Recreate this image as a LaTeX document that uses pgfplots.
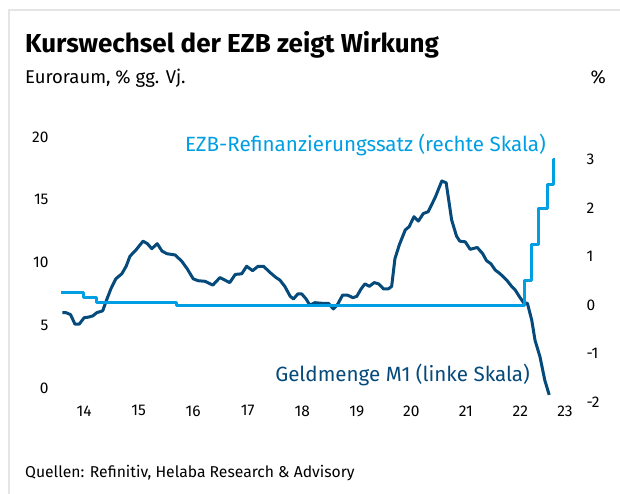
\documentclass[border=0pt]{standalone}
\usepackage{pgfplots}
\pgfplotsset{compat=1.18}
\usepackage{fontspec}
\setmainfont{Fira Sans}
\definecolor{dkblue}{HTML}{054A7A}
\definecolor{ltblue}{HTML}{009FE3}
\pgfplotstableread{
x y
2014.10 6.0
2014.17 6.0
2014.25 5.85
2014.33 5.1
2014.41 5.1
2014.50 5.6
2014.58 5.65
2014.66 5.75
2014.73 6.0
2014.84 6.15
2014.91 7.0
2014.99 7.9
2015.08 8.7
2015.19 9.1
2015.27 9.7
2015.34 10.5
2015.45 11.0
2015.58 11.7
2015.66 11.5
2015.74 11.1
2015.84 11.5
2015.93 10.9
2016.02 10.7
2016.17 10.6
2016.29 10.1
2016.39 9.5
2016.50 8.7
2016.59 8.55
2016.72 8.5
2016.86 8.2
2016.99 8.8
2017.17 8.4
2017.27 9.05
2017.39 9.1
2017.48 9.7
2017.59 9.35
2017.69 9.7
2017.79 9.7
2017.91 9.2
2018.02 8.8
2018.09 8.6
2018.18 8.1
2018.28 7.3
2018.34 7.1
2018.42 7.5
2018.49 7.5
2018.57 7.1
2018.64 6.6
2018.73 6.8
2018.86 6.75
2018.98 6.75
2019.07 6.3
2019.14 6.6
2019.24 7.4
2019.33 7.4
2019.43 7.2
2019.50 7.3
2019.58 7.9
2019.65 8.3
2019.73 8.1
2019.82 8.4
2019.90 8.3
2019.99 7.9
2020.08 7.9
2020.14 8.1
2020.20 10.3
2020.28 11.4
2020.39 12.6
2020.46 12.85
2020.55 13.65
2020.63 13.3
2020.72 13.9
2020.81 14.05
2020.94 15.2
2021.06 16.5
2021.14 16.35
2021.24 13.4
2021.33 12.1
2021.39 11.7
2021.49 11.65
2021.58 11.05
2021.71 11.2
2021.81 10.7
2021.88 10.15
2021.96 9.9
2022.04 9.4
2022.13 9.1
2022.25 8.6
2022.34 8.1
2022.40 7.85
2022.48 7.3
2022.56 6.8
2022.63 6.75
2022.71 5.4
2022.77 3.8
2022.86 2.5
2022.95 0.6
2023.03 -0.55
}\mone
\pgfplotstableread{
x y
2014.07 0.25
2014.48 0.25
2014.48 0.15
2014.73 0.15
2014.73 0.05
2016.20 0.05
2016.20 0.00
2022.57 0.00
2022.57 0.50
2022.70 0.50
2022.70 1.25
2022.84 1.25
2022.84 2.00
2022.99 2.00
2022.99 2.50
2023.10 2.50
2023.10 3.00
2023.13 3.00
}\ezb
\begin{document}
\begin{tikzpicture}
\useasboundingbox (0,0) rectangle (620bp,494bp);
\fill[white] (0,0) rectangle (620bp,494bp);
\draw[line width=2bp, black!10] (9bp,0) -- (9bp,484bp) -- (620bp,484bp);
\node[anchor=base west, inner sep=0pt, font=\fontsize{26bp}{30bp}\selectfont\bfseries] at (25bp,441bp) {Kurswechsel der EZB zeigt Wirkung};
\node[anchor=base west, inner sep=0pt, font=\fontsize{18.5bp}{22bp}\selectfont] at (25bp,410bp) {Euroraum, \% gg. Vj.};
\node[anchor=base east, inner sep=0pt, font=\fontsize{18.5bp}{22bp}\selectfont] at (606bp,410bp) {\%};
\node[anchor=base west, inner sep=0pt, font=\fontsize{15.7bp}{18bp}\selectfont] at (25bp,17bp) {Quellen: Refinitiv, Helaba Research \& Advisory};
\begin{axis}[at={(52bp,92bp)}, anchor=south west, scale only axis,
  width=531bp, height=272bp,
  xmin=2013.91, xmax=2023.65, ymin=-1.115, ymax=20.56,
  axis y line*=left, axis x line*=bottom,
  axis line style={draw=none}, major tick length=0pt, tick style={draw=none},
  ytick={0,5,10,15,20},
  xtick={2014.5,2015.5,2016.5,2017.5,2018.5,2019.5,2020.5,2021.5,2022.5,2023.32},
  xticklabels={14,15,16,17,18,19,20,21,22,23},
  /pgf/number format/assume math mode=true,
  tick label style={font=\fontsize{15.5bp}{18bp}\selectfont},
  clip=false]
\addplot[dkblue, line width=3bp, line join=round] table[x=x,y=y] {\mone};
\end{axis}
\begin{axis}[at={(52bp,92bp)}, anchor=south west, scale only axis,
  width=531bp, height=272bp,
  xmin=2013.91, xmax=2023.65, ymin=-2.004, ymax=3.616,
  axis y line*=right, axis x line=none,
  axis line style={draw=none}, major tick length=0pt, tick style={draw=none},
  ytick={-2,-1,0,1,2,3},
  /pgf/number format/assume math mode=true,
  tick label style={font=\fontsize{15.5bp}{18bp}\selectfont},
  clip=false]
\addplot[ltblue, line width=3bp, line join=round] table[x=x,y=y] {\ezb};
\end{axis}
\node[anchor=base east, inner sep=0pt, text=ltblue, font=\fontsize{20.6bp}{24bp}\selectfont] at (546bp,342bp) {EZB-Refinanzierungssatz (rechte Skala)};
\node[anchor=base east, inner sep=0pt, text=dkblue, font=\fontsize{20.6bp}{24bp}\selectfont] at (530bp,112bp) {Geldmenge M1 (linke Skala)};
\end{tikzpicture}
\end{document}
